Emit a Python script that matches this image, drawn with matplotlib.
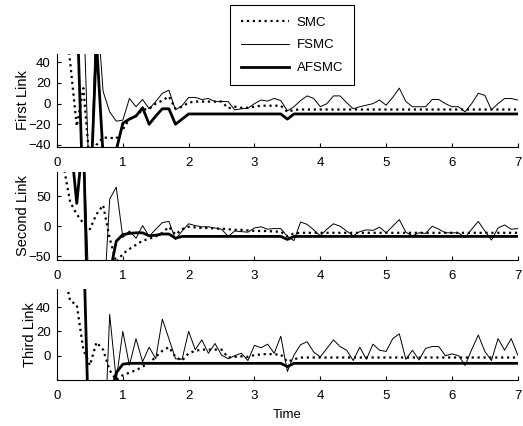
import numpy as np
import matplotlib
matplotlib.use('Agg')
import matplotlib.pyplot as plt

plt.rcParams['font.family'] = ['Liberation Sans', 'DejaVu Sans']

# time grid (0.1 s)
t = np.round(np.arange(0, 7.01, 0.1), 1)

# First link
smc1 = [100, 100, 40, -22, 15, -60, -40, -33, -33, -34,
        -25, -15, -12, -6, -5, 0, 3, 7, -5, -3,
        1, 2, 2, 2, 2, 2, -4.5, -3, -4, -4,
        -3, -2, -2, -2, -2, -8, -6, -5.7, -5.7, -5.7,
        -5.7, -5.7, -5.7, -5.7, -5.7, -5.7, -5.7, -5.7, -5.7, -5.7,
        -5.7, -5.7, -5.7, -5.7, -5.7, -5.7, -5.7, -5.7, -5.7, -5.7,
        -5.7, -5.7, -5.7, -5.7, -5.7, -5.7, -5.7, -5.7, -5.7, -5.7, -5.7]
fsmc1 = [100, 100, 100, 100, 100, -100, 100, 12, -8, -17,
         -16, 5, -3, 4, -5, 2, 10, 13, -6, -2,
         6, 6, 4, 5, 2, 2, 2, -6, -5, -4.5,
         0, 3.5, 2.5, 5, 3, -7, -3, 3, 7.5, 5,
         -3, 0, 7.5, 7.5, 1, -5, -3, -1.5, 0, 3.5,
         -1.5, 6, 15, 2, -3, -3, -3, 4, 4, 0,
         -3, -3, -8, 0, 10, 8, -6, 0, 5, 5, 3.5]
afsmc1 = [100, 100, 100, 100, -100, -100, 60, -50, -80, -45,
          -19, -15, -12, -4, -20, -12, -5, -5, -20, -15,
          -10, -10, -10, -10, -10, -10, -10, -10, -10, -10,
          -10, -10, -10, -10, -10, -15, -10, -10, -10, -10,
          -10, -10, -10, -10, -10, -10, -10, -10, -10, -10,
          -10, -10, -10, -10, -10, -10, -10, -10, -10, -10,
          -10, -10, -10, -10, -10, -10, -10, -10, -10, -10, -10]

# Second link
smc2 = [150, 100, 40, 20, 5, -5, 20, 35, -20, -60,
        -46, -38, -31, -24, -21, -17, -11, -1, -14, -5,
        -1, -2, -3, -3, -4, -4, -5, -6, -6, -7,
        -8, -8, -8, -9, -9, -17, -12, -11, -11, -11,
        -11, -11, -11, -11, -11, -11, -11, -11, -11, -11,
        -11, -11, -11, -11, -11, -11, -11, -11, -11, -11,
        -11, -11, -11, -11, -11, -11, -11, -11, -11, -11, -11]
fsmc2 = [150, 150, 150, 150, 150, -150, -150, -150, 45, 65,
         -19, -8, -20, 1, -17, -5, 6, 8, -22, -8,
         4, 1, -1, -1, -3, -5, -17, -8, -9, -10,
         -3, -1, -5, -4, -4, -17, -24, 7, 3, -6,
         -16, -5, 4, 0, -8, -16, -9, -6, -7, -1.6,
         -11, 0, 11, -10, -16, -11, -12, 0, -5, -11,
         -11, -11, -19, -5, 8, -8, -23, -3, 2, -5, -4]
afsmc2 = [150, 150, 150, 38, 150, -300, -150, -150, -80, -25,
          -14, -12, -11, -11, -16, -15, -13, -13, -20, -17,
          -17, -17, -17, -17, -17, -17, -17, -17, -17, -17,
          -17, -17, -17, -17, -17, -22, -17, -17, -17, -17,
          -17, -17, -17, -17, -17, -17, -17, -17, -17, -17,
          -17, -17, -17, -17, -17, -17, -17, -17, -17, -17,
          -17, -17, -17, -17, -17, -17, -17, -17, -17, -17, -17]

# Third link
smc3 = [100, 70, 45, 42, 5, -8, 11, 5, -12, -20,
        -16, -14, -12, -9, -6, -1, 4, 7, -1, -4,
        2, 4, 5, 5, 5, 5, -1.5, -1, -0.5, -1,
        0.5, 1, 1.5, 1, 1, -5, -3, -1.5, -1.5, -1.5,
        -1.5, -1.5, -1.5, -1.5, -1.5, -1.5, -1.5, -1.5, -1.5, -1.5,
        -1.5, -1.5, -1.5, -1.5, -1.5, -1.5, -1.5, -1.5, -1.5, -1.5,
        -1.5, -1.5, -1.5, -1.5, -1.5, -1.5, -1.5, -1.5, -1.5, -1.5, -1.5]
fsmc3 = [100, 100, 100, 100, 100, -100, -100, -100, 34, -20,
         20, -8, 14, -5, 7, -2.5, 30, 14, -2.5, -3,
         20, 5, 13, 2, 10, 0.5, -2.5, 0, 2, -4,
         8.5, 6.5, 9.5, 2, 16, -13, 0.5, 9, 11.5, 3,
         -1, 6, 13, 7.5, 4.5, -4, 7, -3, 9.5, 4.5,
         3.5, 14, 18, -3, 4.5, -3.5, 6, 7.5, 7.5, 0,
         1.5, 0, -8, 5, 17, 3.5, -4, 14, 4.5, 14, 0.5]
afsmc3 = [100, 100, 100, 100, 100, -100, -100, -100, -35, -14,
          -7, -6.3, -6.3, -6.3, -6.3, -6.3, -6.3, -6.3, -6.3, -6.3,
          -6.3, -6.3, -6.3, -6.3, -6.3, -6.3, -6.3, -6.3, -6.3, -6.3,
          -6.3, -6.3, -6.3, -6.3, -6.3, -9, -6.3, -6.3, -6.3, -6.3,
          -6.3, -6.3, -6.3, -6.3, -6.3, -6.3, -6.3, -6.3, -6.3, -6.3,
          -6.3, -6.3, -6.3, -6.3, -6.3, -6.3, -6.3, -6.3, -6.3, -6.3,
          -6.3, -6.3, -6.3, -6.3, -6.3, -6.3, -6.3, -6.3, -6.3, -6.3, -6.3]

links = ['First Link', 'Second Link', 'Third Link']
ylims = [(-42, 48), (-56, 90), (-20, 55)]
yticks = [[-40, -20, 0, 20, 40], [-50, 0, 50], [0, 20, 40]]
series = [(smc1, fsmc1, afsmc1), (smc2, fsmc2, afsmc2), (smc3, fsmc3, afsmc3)]

fig = plt.figure(figsize=(5.23, 4.26), dpi=100)
boxes = [(0.109, 0.655, 0.881, 0.218),
         (0.109, 0.390, 0.881, 0.206),
         (0.109, 0.108, 0.881, 0.214)]

for i in range(3):
    ax = fig.add_axes(boxes[i])
    s, f, a = series[i]
    l1, = ax.plot(t, s, color='black', linestyle=':', linewidth=1.6, label='SMC')
    l2, = ax.plot(t, f, color='black', linestyle='-', linewidth=0.7, label='FSMC')
    l3, = ax.plot(t, a, color='black', linestyle='-', linewidth=2.0, label='AFSMC')
    ax.set_xlim(0, 7)
    ax.set_ylim(*ylims[i])
    ax.set_xticks(range(8))
    ax.set_yticks(yticks[i])
    ax.spines['top'].set_visible(False)
    ax.spines['right'].set_visible(False)
    ax.tick_params(direction='in', length=3, labelsize=9.5)
    ax.tick_params(axis='x', pad=7)
    ax.tick_params(axis='y', pad=4.5)
    ax.set_ylabel(links[i], fontsize=10.5, labelpad=-1)
    if i == 2:
        ax.set_xlabel('Time', fontsize=9.5, labelpad=5)

leg = fig.legend([l1, l2, l3], ['SMC', 'FSMC', 'AFSMC'], loc='upper left',
                 bbox_to_anchor=(0.44, 0.988), borderaxespad=0,
                 fancybox=False, framealpha=1,
                 edgecolor='black', fontsize=9.5, handlelength=3.6,
                 handletextpad=0.6, labelspacing=0.8, borderpad=0.85)
leg.get_frame().set_linewidth(0.8)

fig.savefig('out.png', dpi=100)
